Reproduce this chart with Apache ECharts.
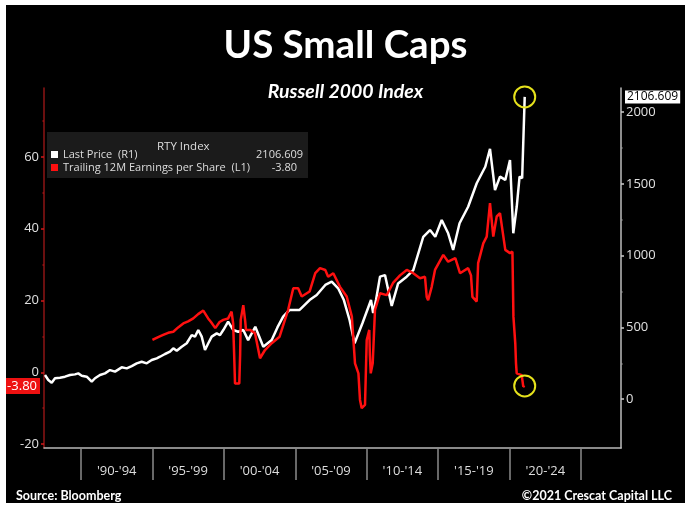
<!DOCTYPE html>
<html>
<head>
<meta charset="utf-8">
<script src="https://cdn.jsdelivr.net/npm/echarts@6/dist/echarts.min.js"></script>
<style>
  html, body { margin: 0; padding: 0; background: #ffffff; }
  #chart { position: absolute; left: 6px; top: 5px; width: 679px; height: 498px; background: #000000; }
</style>
</head>
<body>
<div id="chart"></div>
<script>
// Russell 2000 price (right axis)
const priceYears = [1987.48, 1987.71, 1987.95, 1988.18, 1988.53, 1988.88, 1989.23, 1989.58, 1989.81, 1990.05,
  1990.4, 1990.75, 1990.98, 1991.33, 1991.68, 1992.03, 1992.38, 1992.85, 1993.2, 1993.55,
  1993.9, 1994.25, 1994.6, 1994.95, 1995.3, 1995.53, 1995.88, 1996.23, 1996.46, 1996.7,
  1997.05, 1997.4, 1997.75, 1997.98, 1998.21, 1998.45, 1998.68, 1998.91, 1999.15, 1999.5,
  1999.73, 1999.96, 2000.3, 2000.66, 2001.0, 2001.36, 2001.7, 2002.2, 2002.76, 2003.35,
  2003.75, 2004.15, 2004.6, 2005.3, 2006.0, 2006.5, 2007.1, 2007.55, 2008.0, 2008.4,
  2008.8, 2009.15, 2009.7, 2010.3, 2010.45, 2010.65, 2010.93, 2011.28, 2011.75, 2012.2,
  2012.8, 2013.26, 2013.96, 2014.43, 2014.8, 2015.25, 2015.7, 2016.05, 2016.5, 2017.1,
  2017.7, 2018.3, 2018.63, 2018.98, 2019.33, 2019.7, 2020.03, 2020.26, 2020.5, 2020.7,
  2020.88, 2021.06];
const priceValues = [169, 134, 115, 146, 150, 157, 169, 173, 180, 164,
  157, 122, 146, 169, 180, 203, 192, 222, 215, 231,
  250, 261, 250, 273, 285, 296, 315, 331, 355, 338,
  366, 390, 447, 436, 482, 436, 343, 390, 436, 459,
  447, 482, 540, 482, 470, 482, 412, 505, 366, 412,
  500, 575, 622, 622, 691, 726, 796, 819, 773, 691,
  552, 390, 529, 691, 600, 691, 854, 865, 650, 807,
  854, 900, 1132, 1179, 1132, 1249, 1156, 1040, 1226, 1341,
  1505, 1620, 1745, 1458, 1551, 1528, 1667, 1156, 1341, 1551,
  1540, 2106.609];

// Trailing 12M EPS (left axis)
const epsYears = [1995.0, 1995.4, 1995.75, 1996.1, 1996.46, 1996.8, 1997.16, 1997.5, 1997.86, 1998.2,
  1998.56, 1998.9, 1999.1, 1999.4, 1999.7, 1999.96, 2000.3, 2000.54, 2000.65, 2000.72,
  2000.78, 2001.08, 2001.14, 2001.18, 2001.36, 2001.5, 2001.55, 2001.83, 2002.18, 2002.53,
  2002.88, 2003.35, 2003.9, 2004.5, 2004.86, 2005.2, 2005.45, 2006.0, 2006.4, 2006.73,
  2007.1, 2007.3, 2007.66, 2008.13, 2008.6, 2008.96, 2009.18, 2009.42, 2009.53, 2009.65,
  2009.88, 2010.0, 2010.18, 2010.22, 2010.28, 2010.42, 2010.5, 2010.58, 2010.93, 2011.4,
  2011.86, 2012.33, 2012.8, 2013.26, 2013.73, 2014.08, 2014.2, 2014.3, 2014.55, 2014.78,
  2015.36, 2015.7, 2016.2, 2016.53, 2017.1, 2017.3, 2017.4, 2017.7, 2017.8, 2018.16,
  2018.4, 2018.63, 2018.86, 2019.1, 2019.33, 2019.7, 2020.03, 2020.2, 2020.27, 2020.4,
  2020.45, 2020.5, 2020.85, 2020.96, 2021.06];
const epsValues = [9.0, 9.8, 10.4, 11.0, 11.3, 12.5, 13.6, 14.2, 15.0, 16.2,
  17.2, 15.0, 14.0, 12.3, 14.0, 14.6, 15.0, 16.9, 13.6, 5.0,
  -3.1, -3.1, 5.0, 14.6, 18.7, 14.0, 11.8, 11.8, 10.9, 3.9,
  6.2, 8.1, 9.9, 17.4, 23.4, 23.4, 21.1, 22.5, 27.6, 29.0,
  28.5, 26.6, 27.6, 23.8, 21.1, 15.5, 2.5, -0.3, -7.7, -10.0,
  -9.1, 9.0, 11.8, 5.0, -0.3, 2.5, 10.0, 17.4, 22.0, 21.5,
  25.0, 27.0, 28.5, 27.6, 26.2, 26.6, 21.0, 20.1, 23.8, 28.5,
  32.7, 30.8, 31.8, 27.6, 29.0, 27.0, 21.0, 19.7, 30.4, 35.9,
  37.8, 47.1, 37.8, 43.4, 44.3, 34.1, 33.2, 33.6, 15.5, 8.0,
  2.5, -0.3, -0.8, -4.0, -3.80];

// Axes / labels
const periodStarts = [1990, 1995, 2000, 2005, 2010, 2015, 2020];
const periodLabels = ["'90-'94", "'95-'99", "'00-'04", "'05-'09", "'10-'14", "'15-'19", "'20-'24"];
const periodBounds = [1990, 1995, 2000, 2005, 2010, 2015, 2020, 2025];
const leftTicks = [-20, 0, 20, 40, 60];
const leftMinorTicks = [-10, 10, 30, 50, 70];
const rightTicks = [0, 500, 1000, 1500, 2000];
const rightMinorTicks = [250, 750, 1250, 1750];
const lastPrice = 2106.609;
const lastEps = -3.80;
const priceName = 'Last Price  (R1)';
const epsName = 'Trailing 12M Earnings per Share  (L1)';

const priceData = priceYears.map((y, i) => [y, priceValues[i]]);
const epsData = epsYears.map((y, i) => [y, epsValues[i]]);
const lastYear = priceYears[priceYears.length - 1];
const lastEpsYear = epsYears[epsYears.length - 1];

const FONT = 'Open Sans';
const chart = echarts.init(document.getElementById('chart'), null, { renderer: 'canvas' });

const yBase = { type: 'value', splitLine: { show: false } };
const plain = v => String(v);

chart.setOption({
  backgroundColor: '#000000',
  animation: false,
  title: [
    { text: 'US Small Caps', left: 'center', top: 16,
      textStyle: { color: '#ffffff', fontFamily: 'Lato', fontWeight: 'bold', fontSize: 38.5 } },
    { text: 'Russell 2000 Index', left: 'center', top: 72,
      textStyle: { color: '#ffffff', fontFamily: 'Lato', fontWeight: 'bold', fontStyle: 'italic', fontSize: 19.5 } },
    { text: 'RTY Index', left: 146, top: 131,
      textStyle: { color: '#dddddd', fontFamily: FONT, fontWeight: 'normal', fontSize: 11.5 } },
    { text: 'Source: Bloomberg', left: 5, top: 479,
      textStyle: { color: '#ffffff', fontFamily: 'Lato', fontWeight: 'bold', fontSize: 12.5 } },
    { text: '©2021 Crescat Capital LLC', right: 8, top: 479,
      textStyle: { color: '#ffffff', fontFamily: 'Lato', fontWeight: 'bold', fontSize: 12.5 } }
  ],
  graphic: [
    { type: 'rect', left: 41, top: 127, shape: { width: 261, height: 46 }, style: { fill: '#1b1b1b' }, z: 0 }
  ],
  legend: {
    orient: 'vertical', left: 45, top: 143, itemGap: 0, itemWidth: 7, itemHeight: 7, icon: 'rect',
    padding: 0, z: 5,
    data: [priceName, epsName],
    textStyle: {
      color: '#dddddd', fontFamily: FONT, fontSize: 11, lineHeight: 13,
      rich: {
        n: { width: 190, color: '#dddddd', fontFamily: FONT, fontSize: 11 },
        v1: { width: 50, align: 'right', color: '#dddddd', fontFamily: FONT, fontSize: 11 },
        v2: { width: 44, align: 'right', color: '#dddddd', fontFamily: FONT, fontSize: 11 }
      }
    },
    formatter: function (name) {
      if (name === priceName) return '{n|' + name + '}{v1|' + lastPrice.toFixed(3) + '}';
      return '{n|' + name + '}{v2|' + lastEps.toFixed(2) + '}';
    }
  },
  grid: { left: 38, right: 64, top: 83, bottom: 55 },
  xAxis: {
    type: 'value', min: 1987.41, max: 2027.8,
    splitLine: { show: false },
    axisLine: { show: true, onZero: false, lineStyle: { color: '#b8b8b8', width: 1.5 } },
    axisTick: { show: true, customValues: periodBounds, length: 32, lineStyle: { color: '#8a8a8a', width: 1.5 } },
    axisLabel: {
      show: true, customValues: periodStarts.map(s => s + 2.5), margin: 17,
      color: '#dddddd', fontFamily: FONT, fontSize: 13,
      formatter: function (v) {
        const idx = periodStarts.indexOf(Math.round(v - 2.5));
        return idx >= 0 ? periodLabels[idx] : '';
      }
    }
  },
  yAxis: [
    Object.assign({}, yBase, {
      position: 'left', min: -21.1, max: 79.2,
      axisLine: { show: true, onZero: false, lineStyle: { color: '#8e1414', width: 1.5 } },
      axisTick: { show: true, customValues: leftTicks, length: 3, lineStyle: { color: '#d01818', width: 1.5 } },
      axisLabel: { show: true, customValues: leftTicks, margin: 5, color: '#e0e0e0', fontFamily: FONT, fontSize: 13, formatter: plain }
    }),
    Object.assign({}, yBase, {
      position: 'left', min: -21.1, max: 79.2,
      axisLine: { show: false, onZero: false },
      axisTick: { show: true, customValues: leftMinorTicks, length: 1.5, lineStyle: { color: '#a01515', width: 1.5 } },
      axisLabel: { show: false }
    }),
    Object.assign({}, yBase, {
      position: 'right', min: -340, max: 2168.6,
      axisLine: { show: true, onZero: false, lineStyle: { color: '#bdbdbd', width: 1.5 } },
      axisTick: { show: true, customValues: rightTicks, length: 3, lineStyle: { color: '#cccccc', width: 1.5 } },
      axisLabel: { show: true, customValues: rightTicks, margin: 5, color: '#e0e0e0', fontFamily: FONT, fontSize: 13, formatter: plain }
    }),
    Object.assign({}, yBase, {
      position: 'right', min: -340, max: 2168.6,
      axisLine: { show: false, onZero: false },
      axisTick: { show: true, customValues: rightMinorTicks, length: 1.5, lineStyle: { color: '#9a9a9a', width: 1.5 } },
      axisLabel: { show: false }
    })
  ],
  series: [
    {
      name: priceName, type: 'line', yAxisIndex: 2, data: priceData,
      showSymbol: false, symbol: 'none', color: '#ffffff',
      lineStyle: { color: '#ffffff', width: 2.5 }, z: 3,
      markLine: {
        silent: true, symbol: 'none', animation: false,
        lineStyle: { color: 'rgba(0,0,0,0)', width: 0 },
        data: [{ yAxis: lastPrice }],
        label: { show: true, position: 'end', distance: 4, formatter: lastPrice.toFixed(3),
          color: '#000000', backgroundColor: '#ffffff', padding: [1, 2, 0, 2],
          fontFamily: FONT, fontSize: 12 }
      },
      markPoint: {
        silent: true, symbol: 'circle', symbolSize: 21, animation: false,
        itemStyle: { color: 'rgba(0,0,0,0)', borderColor: '#e6e21c', borderWidth: 2 },
        label: { show: false },
        data: [{ coord: [lastYear, lastPrice] }]
      }
    },
    {
      name: epsName, type: 'line', yAxisIndex: 0, data: epsData,
      showSymbol: false, symbol: 'none', color: '#ff1010',
      lineStyle: { color: '#ff1010', width: 2.5 }, z: 4,
      markLine: {
        silent: true, symbol: 'none', animation: false,
        lineStyle: { color: 'rgba(0,0,0,0)', width: 0 },
        data: [{ yAxis: lastEps }],
        label: { show: true, position: 'start', distance: 4, formatter: lastEps.toFixed(2),
          color: '#ffffff', backgroundColor: '#ee1111', padding: [2, 3, 1, 3],
          fontFamily: FONT, fontSize: 13 }
      },
      markPoint: {
        silent: true, symbol: 'circle', symbolSize: 21, animation: false,
        itemStyle: { color: 'rgba(0,0,0,0)', borderColor: '#e6e21c', borderWidth: 2 },
        label: { show: false },
        data: [{ coord: [lastEpsYear, lastEps] }]
      }
    }
  ]
});
</script>
</body>
</html>
